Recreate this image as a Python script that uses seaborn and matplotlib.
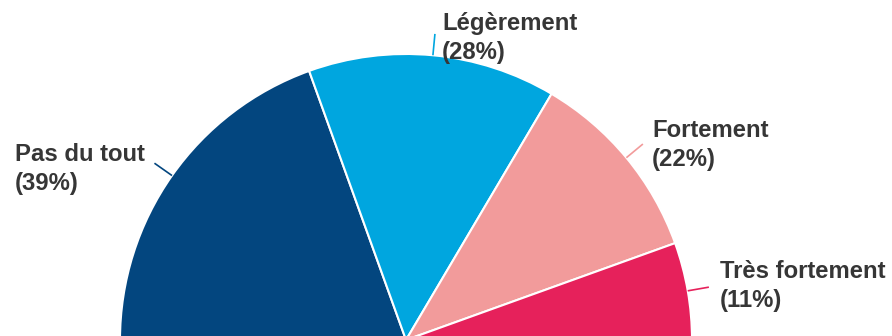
import numpy as np
import matplotlib
matplotlib.use("Agg")
import matplotlib.pyplot as plt
import seaborn as sns

categories = ["Pas du tout", "Légèrement", "Fortement", "Très fortement"]
shares = [39, 28, 22, 11]
colors = ["#03467F", "#00A6DF", "#F29B9B", "#E6215B"]

sns.set_style("white")
plt.rcParams["font.family"] = ["Liberation Sans", "DejaVu Sans"]

W, H = 892, 336
fig = plt.figure(figsize=(W / 100, H / 100), dpi=100)
ax = fig.add_axes([0, 0, 1, 1])

cx, cy, R = 406, -4, 286
fracs = [s / 100 * 0.5 for s in shares]
wedges, _ = ax.pie(fracs, colors=colors, center=(cx, cy), radius=R,
                   startangle=180, counterclock=False, normalize=False,
                   wedgeprops=dict(edgecolor="white", linewidth=1.5))
ax.set_xlim(0, W)
ax.set_ylim(0, H)
ax.set_aspect("equal")
ax.axis("off")

# left edge and first-line baseline of each label (pixels from the top)
text_pos = [(15, 161), (442, 30), (652, 137), (720, 278)]
line_gap = 29

start = 180.0
for cat, s, col, (tx, ty) in zip(categories, shares, colors, text_pos):
    sweep = s / 100 * 180
    mid = np.deg2rad(start - sweep / 2)
    start -= sweep
    x0, y0 = cx + R * np.cos(mid), cy + R * np.sin(mid)
    x1, y1 = cx + R * 1.075 * np.cos(mid), cy + R * 1.075 * np.sin(mid)
    ax.plot([x0, x1], [y0, y1], color=col, lw=1.2, solid_capstyle="butt")
    for k, line in enumerate([cat, f"({s}%)"]):
        ax.text(tx, H - (ty + k * line_gap), line, ha="left", va="baseline",
                fontsize=17.2, fontweight="bold", color="#363636")

fig.savefig("out.png", dpi=100)
